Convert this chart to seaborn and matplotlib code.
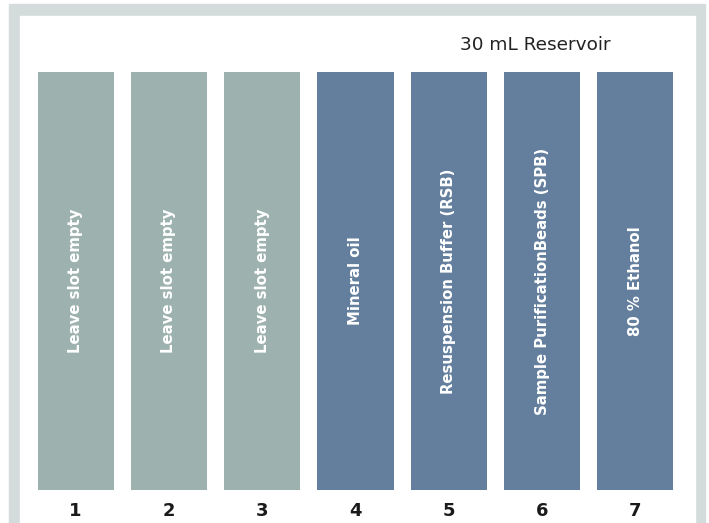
# Reservoir slot layout drawn as a bar chart with seaborn

import pandas as pd
import matplotlib.pyplot as plt
import seaborn as sns
from matplotlib.patches import Rectangle

# Slot data
slots = ['1', '2', '3', '4', '5', '6', '7']
contents = ['Leave slot empty', 'Leave slot empty', 'Leave slot empty',
            'Mineral oil', 'Resuspension Buffer (RSB)',
            'Sample PurificationBeads (SPB)', '80 % Ethanol']
groups = ['empty', 'empty', 'empty', 'reagent', 'reagent', 'reagent', 'reagent']
fill = [1, 1, 1, 1, 1, 1, 1]

slots_df = pd.DataFrame({'slot': slots, 'content': contents,
                         'group': groups, 'fill': fill})

# Colours
slot_palette = {'empty': '#9db2ae', 'reagent': '#647f9d'}
frame_color = '#d3dcdb'

sns.set_style('white')
plt.rcParams['font.family'] = ['DejaVu Sans']

fig = plt.figure(figsize=(7.09, 5.23), dpi=100)
W, H = 709, 523

# Grey frame with white inner panel (behind the axes)
fig.patches.append(Rectangle((9 / W, 0), (705 - 9) / W, (H - 4) / H,
                             transform=fig.transFigure, color=frame_color, zorder=-2))
fig.patches.append(Rectangle((20 / W, 0), (695 - 20) / W, (H - 16) / H,
                             transform=fig.transFigure, color='white', zorder=-1))

ax = fig.add_axes([29 / W, (H - 490) / H, 653 / W, 418 / H])
ax.patch.set_alpha(0)

sns.barplot(data=slots_df, x='slot', y='fill', hue='group', palette=slot_palette,
            dodge=False, width=0.815, saturation=1, legend=False, linewidth=0, ax=ax)

# Slot contents written up the bars
for i, text in enumerate(contents):
    ax.text(i, 0.5, text, rotation=90, ha='center', va='center',
            color='white', fontsize=10.7, fontweight='bold')

ax.set_xlim(-0.5, 6.5)
ax.set_ylim(0, 1)
ax.set_xlabel('')
ax.set_ylabel('')
ax.set_yticks([])
ax.tick_params(axis='x', length=0, pad=9, labelsize=13, labelcolor='#1a1a1a')
for lab in ax.get_xticklabels():
    lab.set_fontweight('bold')
sns.despine(ax=ax, left=True, bottom=True)

fig.text(535 / W, 1 - 45 / H, '30 mL Reservoir', ha='center', va='center',
         fontsize=13.3, color='#222222')

plt.savefig('out.png', dpi=100)
